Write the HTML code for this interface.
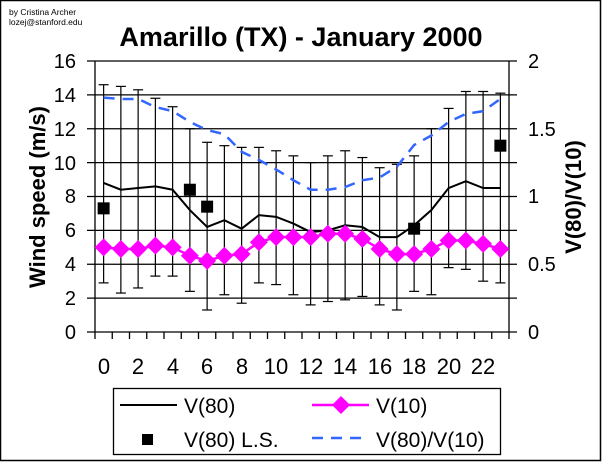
<!DOCTYPE html>
<html><head><style>
html,body{margin:0;padding:0;background:#fff;}
svg{display:block;font-family:"Liberation Sans",Arial,sans-serif;}
</style></head><body>
<svg id="c" width="604" height="462" xmlns="http://www.w3.org/2000/svg">
<rect x="0.5" y="0.5" width="600" height="460" fill="#fff" stroke="#000" stroke-width="1.5"/>
<text x="9" y="15" font-size="8.5">by Cristina Archer</text>
<text x="9" y="25" font-size="8.5">lozej@stanford.edu</text>
<text x="301" y="46" font-size="27" font-weight="bold" text-anchor="middle">Amarillo (TX) - January 2000</text>
<g id="grid" stroke="#000" stroke-width="1.3"></g>
<g font-size="20" text-anchor="end">
<text x="76" y="68">16</text><text x="76" y="102">14</text><text x="76" y="136">12</text>
<text x="76" y="170">10</text><text x="76" y="203">8</text><text x="76" y="237">6</text>
<text x="76" y="271">4</text><text x="76" y="305">2</text><text x="76" y="339">0</text>
</g>
<g font-size="20">
<text x="528" y="68">2</text><text x="528" y="136">1.5</text><text x="528" y="203">1</text>
<text x="528" y="271">0.5</text><text x="528" y="339">0</text>
</g>
<g font-size="22" text-anchor="middle">
<text x="104" y="374">0</text><text x="138" y="374">2</text><text x="173" y="374">4</text>
<text x="207" y="374">6</text><text x="242" y="374">8</text><text x="276" y="374">10</text>
<text x="311" y="374">12</text><text x="345" y="374">14</text><text x="380" y="374">16</text>
<text x="414" y="374">18</text><text x="449" y="374">20</text><text x="483" y="374">22</text>
</g>
<text transform="translate(45,197) rotate(-90)" font-size="22" font-weight="bold" text-anchor="middle">Wind speed (m/s)</text>
<text transform="translate(581,197) rotate(-90)" font-size="22" font-weight="bold" text-anchor="middle">V(80)/V(10)</text>
<g id="data"></g>
<rect x="113.5" y="388.5" width="387" height="66" fill="#fff" stroke="#000" stroke-width="1.3"/>
<line x1="120" y1="405" x2="177" y2="405" stroke="#000" stroke-width="2"/>
<text x="184" y="413" font-size="21">V(80)</text>
<line x1="312" y1="405" x2="369" y2="405" stroke="#ff00ff" stroke-width="2.5"/>
<polygon points="341,396 350,405 341,414 332,405" fill="#ff00ff"/>
<text x="376" y="413" font-size="21">V(10)</text>
<rect x="142" y="434" width="11" height="11" fill="#000"/>
<text x="184" y="447" font-size="21">V(80) L.S.</text>
<line x1="312" y1="438" x2="369" y2="438" stroke="#3366ff" stroke-width="2.5" stroke-dasharray="11,8"/>
<text x="376" y="447" font-size="21">V(80)/V(10)</text>
</svg>
<script>
(function(){
const NS="http://www.w3.org/2000/svg";
const L=95,R=509,T=61,B=332,U=(B-T)/16,W=(R-L)/24;
function el(p,t,a){const e=document.createElementNS(NS,t);for(const k in a)e.setAttribute(k,a[k]);document.getElementById(p).appendChild(e);return e;}
const X=i=>L+W*(i+0.5), Y=v=>B-v*U, Yr=r=>B-r*8*U;
for(let v=0;v<=16;v+=2){el('grid','line',{x1:L-8,x2:R+8,y1:Y(v),y2:Y(v)});}
el('grid','line',{x1:L,x2:L,y1:T,y2:B});el('grid','line',{x1:R,x2:R,y1:T,y2:B});
for(let i=0;i<=24;i++){el('grid','line',{x1:L+W*i,x2:L+W*i,y1:B,y2:B+7});}
const v80=[8.8,8.4,8.5,8.6,8.4,7.2,6.2,6.6,6.1,6.9,6.8,6.4,5.9,6.0,6.3,6.2,5.6,5.6,6.3,7.2,8.5,8.9,8.5,8.5];
const v10=[5.0,4.9,4.9,5.1,5.0,4.5,4.2,4.5,4.6,5.3,5.6,5.6,5.6,5.8,5.8,5.5,4.9,4.6,4.6,4.9,5.4,5.4,5.2,4.9];
const hi=[14.6,14.5,14.3,13.8,13.3,12.0,11.2,11.0,10.9,10.9,10.7,10.4,10.0,10.4,10.7,10.3,9.7,9.9,10.4,12.0,13.2,14.2,14.2,14.1];
const lo=[2.9,2.3,2.6,3.3,3.3,2.4,1.3,2.2,1.7,2.9,2.8,2.2,1.6,1.8,1.9,2.1,1.6,1.3,2.4,2.2,3.8,3.7,3.0,2.9];
const rat=[1.73,1.72,1.72,1.66,1.63,1.55,1.49,1.46,1.33,1.27,1.2,1.12,1.05,1.05,1.07,1.12,1.14,1.22,1.38,1.45,1.55,1.61,1.63,1.72];
for(let i=0;i<24;i++){el('data','line',{x1:X(i),x2:X(i),y1:Y(hi[i]),y2:Y(lo[i]),stroke:'#000','stroke-width':1.2});
 el('data','line',{x1:X(i)-5,x2:X(i)+5,y1:Y(hi[i]),y2:Y(hi[i]),stroke:'#000','stroke-width':1.2});
 el('data','line',{x1:X(i)-5,x2:X(i)+5,y1:Y(lo[i]),y2:Y(lo[i]),stroke:'#000','stroke-width':1.2});}
el('data','polyline',{points:rat.map((r,i)=>X(i)+','+Yr(r)).join(' '),fill:'none',stroke:'#3366ff','stroke-width':2.5,'stroke-dasharray':'11,8'});
el('data','polyline',{points:v80.map((v,i)=>X(i)+','+Y(v)).join(' '),fill:'none',stroke:'#000','stroke-width':2});
el('data','polyline',{points:v10.map((v,i)=>X(i)+','+Y(v)).join(' '),fill:'none',stroke:'#ff00ff','stroke-width':2.5});
v10.forEach((v,i)=>{const x=X(i),y=Y(v);el('data','polygon',{points:x+','+(y-9)+' '+(x+9)+','+y+' '+x+','+(y+9)+' '+(x-9)+','+y,fill:'#ff00ff'});});
[[0,7.3],[5,8.4],[6,7.4],[18,6.1],[23,11.0]].forEach(function(p){el('data','rect',{x:X(p[0])-6,y:Y(p[1])-6,width:12,height:12,fill:'#000'});});
})();
</script>
</body></html>
